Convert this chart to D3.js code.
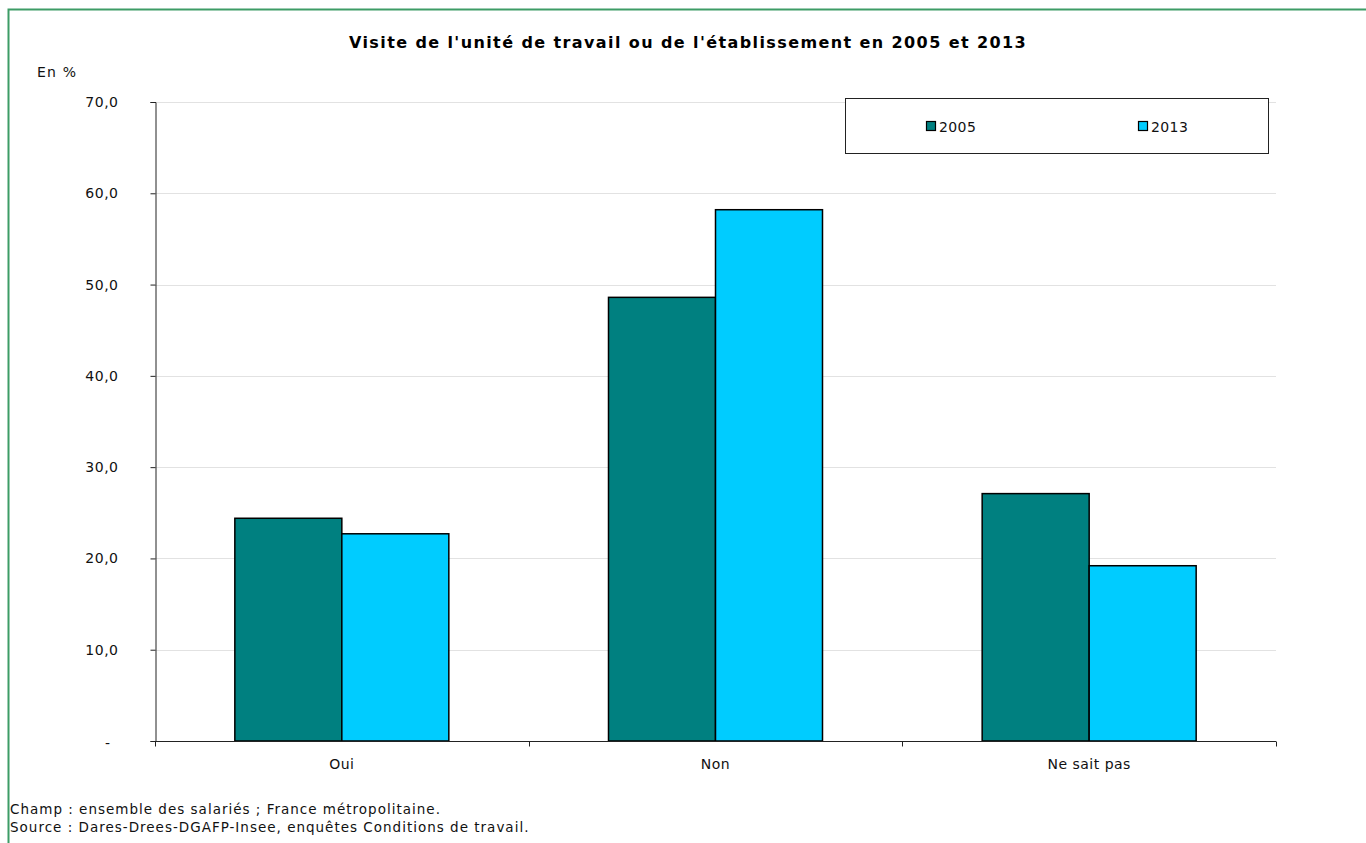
<!DOCTYPE html>
<html><head><meta charset="utf-8">
<script src="https://cdn.jsdelivr.net/npm/d3@7"></script>
<style>
html,body{margin:0;padding:0;background:#fff;}
svg{display:block;font-family:"DejaVu Sans",Verdana,sans-serif;}
</style></head>
<body>
<svg id="c" width="1366" height="843"></svg>
<script>
const categories = ["Oui", "Non", "Ne sait pas"];
const seriesNames = ["2005", "2013"];
const values2005 = [24.4, 48.6, 27.1];
const values2013 = [22.7, 58.2, 19.2];
const yTicks = [0, 10, 20, 30, 40, 50, 60, 70];
const colors = ["#008080", "#00ccff"];
const title = "Visite de l'unité de travail ou de l'établissement en 2005 et 2013";
const notes = ["Champ : ensemble des salariés ; France métropolitaine.",
               "Source : Dares-Drees-DGAFP-Insee, enquêtes Conditions de travail."];

const FF = "DejaVu Sans, sans-serif";
const svg = d3.select("#c");
// frame
svg.append("path").attr("d","M8.5,843 L8.5,9.5 L1366,9.5").attr("fill","none")
   .attr("stroke","#3d9c66").attr("stroke-width",2);

const L=155, R=1276, T=102, B=741;
const x = d3.scaleBand().domain(categories).range([L,R]);
const y = d3.scaleLinear().domain([0,70]).range([B,T]);
const data = categories.map((c,i)=>({cat:c, vals:[values2005[i], values2013[i]]}));
const barW = 107;

// gridlines
svg.append("g").selectAll("line").data(yTicks.filter(d=>d>0)).join("line")
  .attr("x1",L).attr("x2",R).attr("y1",d=>Math.round(y(d))+0.5).attr("y2",d=>Math.round(y(d))+0.5)
  .attr("stroke","#e2e2e2").attr("stroke-width",1);

// bars
const g = svg.append("g");
data.forEach(d=>{
  const cx = x(d.cat)+x.bandwidth()/2;
  d.vals.forEach((v,j)=>{
    const x0 = cx - barW + j*barW;
    g.append("rect").attr("x",x0).attr("y",y(v)).attr("width",barW).attr("height",y(0)-y(v))
      .attr("fill",colors[j]).attr("stroke","#000").attr("stroke-width",1.5);
  });
});

// y axis
const yAxis = d3.axisLeft(y).tickValues(yTicks).tickSize(5).tickPadding(32)
  .tickFormat(d=> d===0 ? "-" : d3.format(".1f")(d).replace(".",","));
const ya = svg.append("g").attr("transform",`translate(${L}.5,0)`).call(yAxis);
ya.select(".domain").attr("stroke","#222");
ya.selectAll(".tick line").attr("stroke","#222");
ya.selectAll(".tick text").attr("font-size",14).attr("letter-spacing",0.5).attr("fill","#111").attr("font-family",FF);
ya.selectAll(".tick text").filter(d=>d===0).attr("dx",-8).attr("dy","0.45em");

// x axis
const xAxis = d3.axisBottom(x).tickSize(0).tickPadding(18);
const xa = svg.append("g").attr("transform",`translate(0,${B}.5)`).call(xAxis);
xa.select(".domain").attr("stroke","#222").attr("d",`M${L},0H${R}`);
xa.selectAll(".tick text").attr("font-size",14).attr("letter-spacing",0.5).attr("fill","#111").attr("font-family",FF);
// category separators ticks
const seps = categories.map(c=>x(c)).concat([R]);
xa.selectAll("line.sep").data(seps).join("line").attr("class","sep")
  .attr("x1",d=>Math.round(d)+0.5).attr("x2",d=>Math.round(d)+0.5).attr("y1",0).attr("y2",5).attr("stroke","#222");

// title
svg.append("text").attr("x",688).attr("y",48).attr("text-anchor","middle")
  .attr("font-weight","bold").attr("font-size",16).attr("letter-spacing",1.4).attr("fill","#000").text(title);
svg.append("text").attr("x",37).attr("y",77).attr("font-size",14).attr("letter-spacing",1.2).attr("fill","#111").text("En %");

// legend
svg.append("rect").attr("x",845.5).attr("y",98.5).attr("width",423).attr("height",55)
  .attr("fill","#fff").attr("stroke","#222").attr("stroke-width",1);
const legX = [926, 1138];
seriesNames.forEach((s,i)=>{
  svg.append("rect").attr("x",legX[i]+0.5).attr("y",121.5).attr("width",9).attr("height",9)
    .attr("fill",colors[i]).attr("stroke","#000").attr("stroke-width",1.2);
  svg.append("text").attr("x",legX[i]+13).attr("y",131.5).attr("font-size",14).attr("letter-spacing",0.4).attr("fill","#111").text(s);
});

// notes
notes.forEach((n,i)=>{
  svg.append("text").attr("x",10).attr("y",814+i*18).attr("font-size",13.5).attr("letter-spacing",1).attr("fill","#111").text(n);
});
</script>
</body></html>
